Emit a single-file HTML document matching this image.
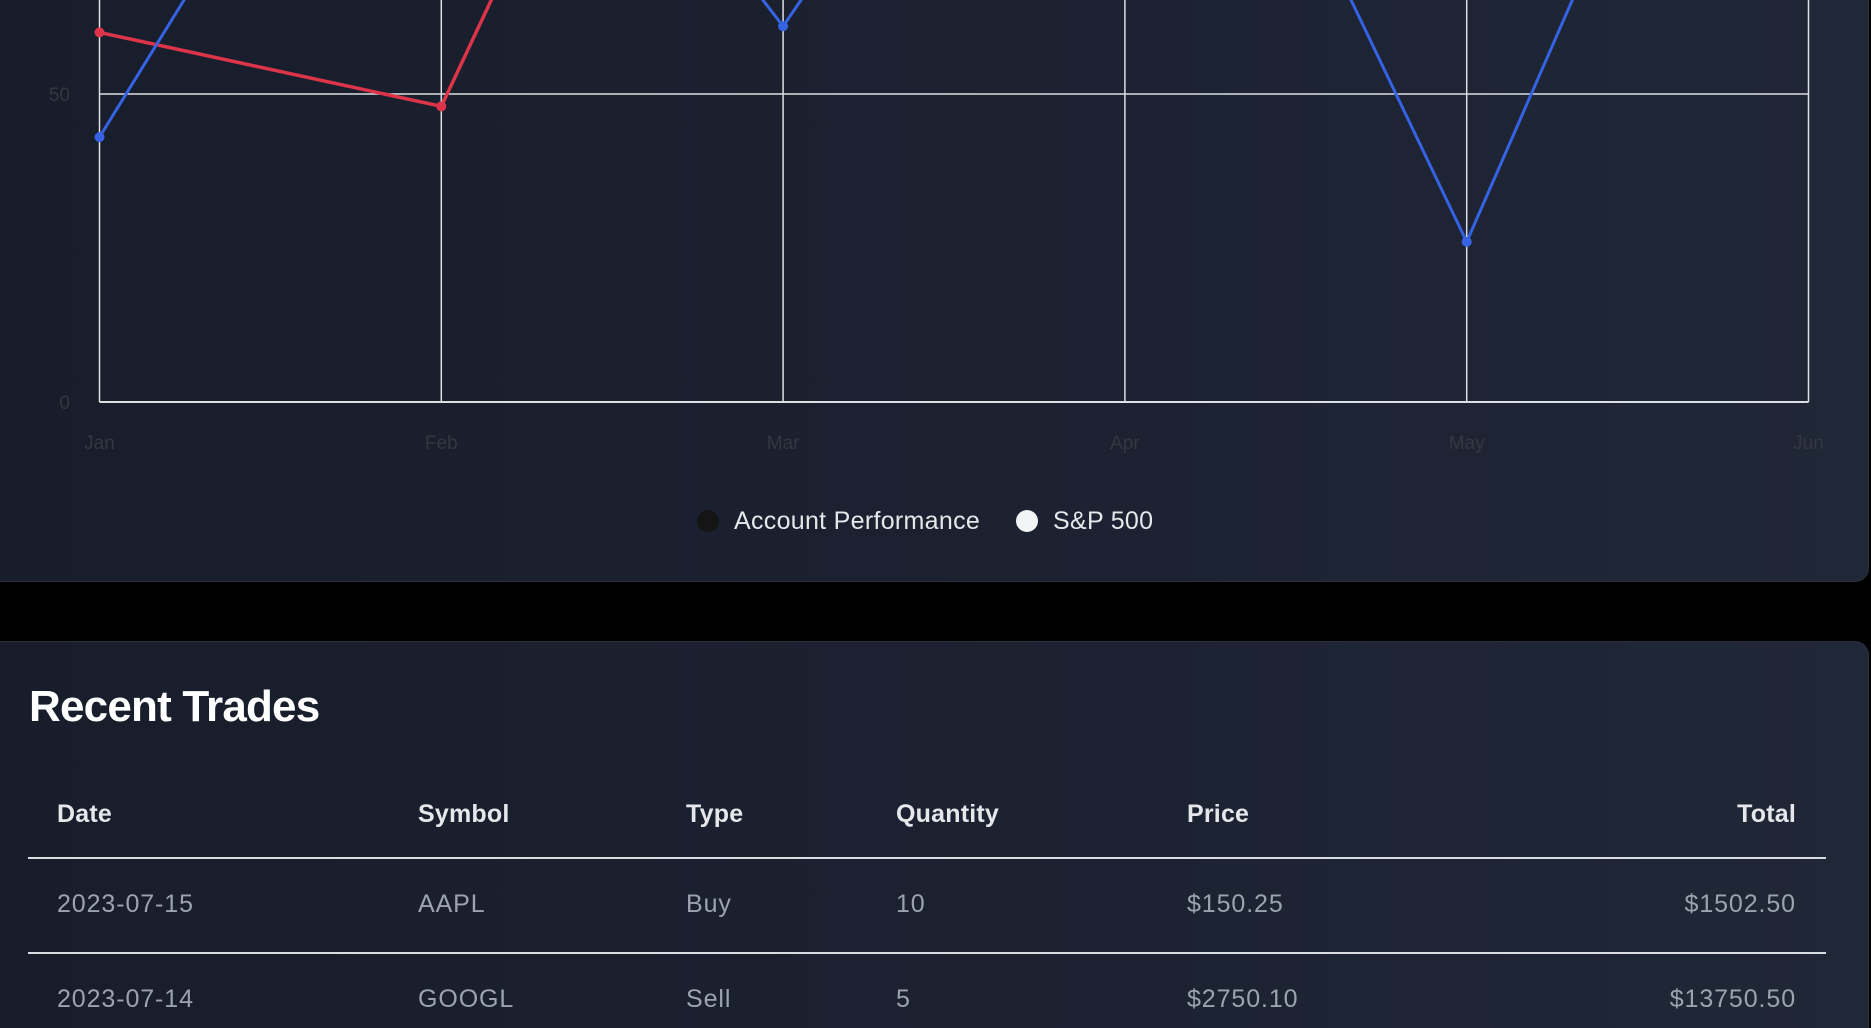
<!DOCTYPE html>
<html><head><meta charset="utf-8">
<style>
html,body{margin:0;padding:0;width:1871px;height:1028px;overflow:hidden;background:#000;font-family:"Liberation Sans",sans-serif;}
.card{position:absolute;background:linear-gradient(90deg,#181d2b 0%,#1c2231 60%,#202737 100%);border:1px solid #2a3040;box-sizing:border-box;}
#chart-card{left:-20px;top:-400px;width:1889px;height:982px;border-radius:14px;}
#trades-card{left:-20px;top:641px;width:1889px;height:387px;border-radius:14px 14px 0 0;border-bottom:none;}
svg{position:absolute;left:0;top:0;}
.legend{position:absolute;top:507px;font-size:25px;color:#e5e7eb;letter-spacing:0.3px;}
.dot{position:absolute;width:22px;height:22px;border-radius:50%;top:510px;}
h2{position:absolute;left:29px;top:682px;margin:0;font-size:44px;font-weight:bold;color:#fff;letter-spacing:-0.8px;}
.cell{position:absolute;font-size:25px;white-space:nowrap;}
.th{color:#e5e7eb;font-weight:bold;top:800px;letter-spacing:0.2px;}
.r1{color:#9ca3af;top:890px;letter-spacing:0.9px;}
.r2{color:#9ca3af;top:985px;letter-spacing:0.9px;}
.rule{position:absolute;left:28px;width:1798px;height:1.5px;background:#d9dce2;}
</style></head><body>
<div class="card" id="chart-card"></div>
<svg id="chart" width="1871" height="600"></svg>
<div class="dot" style="left:697px;background:#151515"></div>
<div class="legend" style="left:734px">Account Performance</div>
<div class="dot" style="left:1016px;background:#f3f4f6"></div>
<div class="legend" style="left:1053px">S&amp;P 500</div>

<div class="card" id="trades-card"></div>
<h2>Recent Trades</h2>
<div class="cell th" style="left:57px">Date</div>
<div class="cell th" style="left:418px">Symbol</div>
<div class="cell th" style="left:686px">Type</div>
<div class="cell th" style="left:896px">Quantity</div>
<div class="cell th" style="left:1187px">Price</div>
<div class="cell th" style="right:75px">Total</div>
<div class="rule" style="top:857px"></div>
<div class="cell r1" style="left:57px">2023-07-15</div>
<div class="cell r1" style="left:418px">AAPL</div>
<div class="cell r1" style="left:686px">Buy</div>
<div class="cell r1" style="left:896px">10</div>
<div class="cell r1" style="left:1187px">$150.25</div>
<div class="cell r1" style="right:75px">$1502.50</div>
<div class="rule" style="top:952px"></div>
<div class="cell r2" style="left:57px">2023-07-14</div>
<div class="cell r2" style="left:418px">GOOGL</div>
<div class="cell r2" style="left:686px">Sell</div>
<div class="cell r2" style="left:896px">5</div>
<div class="cell r2" style="left:1187px">$2750.10</div>
<div class="cell r2" style="right:75px">$13750.50</div>

<script>
const months = ["Jan","Feb","Mar","Apr","May","Jun"];
const accountValues = [43, 133, 61, 142, 26, 153];
const spValues = [60, 48, 166, 150, 170, 160];
const yTicks = [0, 50, 100, 150, 200];

const svg = document.getElementById('chart');
const NS = 'http://www.w3.org/2000/svg';
const x0 = 99.5, xStep = 341.8, yBase = 402, pxPerUnit = 6.16;
function xs(i){ return x0 + i * xStep; }
function ys(v){ return yBase - v * pxPerUnit; }
function mk(tag, attrs){ const e = document.createElementNS(NS, tag); for (const k in attrs) e.setAttribute(k, attrs[k]); svg.appendChild(e); return e; }

yTicks.forEach(t => {
  const g = mk('line', {x1: xs(0), x2: xs(months.length - 1), y1: ys(t), y2: ys(t), stroke: '#dcdfe4', 'stroke-width': t === 0 ? 2 : 1.5});
  
  
  const l = mk('text', {x: 70, y: ys(t) + 7, 'text-anchor': 'end', 'font-size': 19, fill: '#33373f', 'font-family': 'Liberation Sans, sans-serif'});
  l.textContent = t;
  
  
});
months.forEach((m, i) => {
  const g = mk('line', {x1: xs(i), x2: xs(i), y1: ys(yTicks[yTicks.length - 1]), y2: ys(0), stroke: '#dcdfe4', 'stroke-width': 1.5});
  
  
  const l = mk('text', {x: xs(i), y: 449, 'text-anchor': 'middle', 'font-size': 19, fill: '#33373f', 'font-family': 'Liberation Sans, sans-serif'});
  l.textContent = m;
  
  
});
function series(vals, color, w, name){
  const p = mk('polyline', {points: vals.map((v, i) => xs(i) + ',' + ys(v)).join(' '), fill: 'none', stroke: color, 'stroke-width': w, 'stroke-linejoin': 'round'});
  
  
  vals.forEach((v, i) => {
    const c = mk('circle', {cx: xs(i), cy: ys(v), r: 5, fill: color});
    
    
  });
}
series(spValues, '#dc3448', 3.5, 'sp500');
series(accountValues, '#3563e3', 3, 'account-performance');
</script>
</body></html>
